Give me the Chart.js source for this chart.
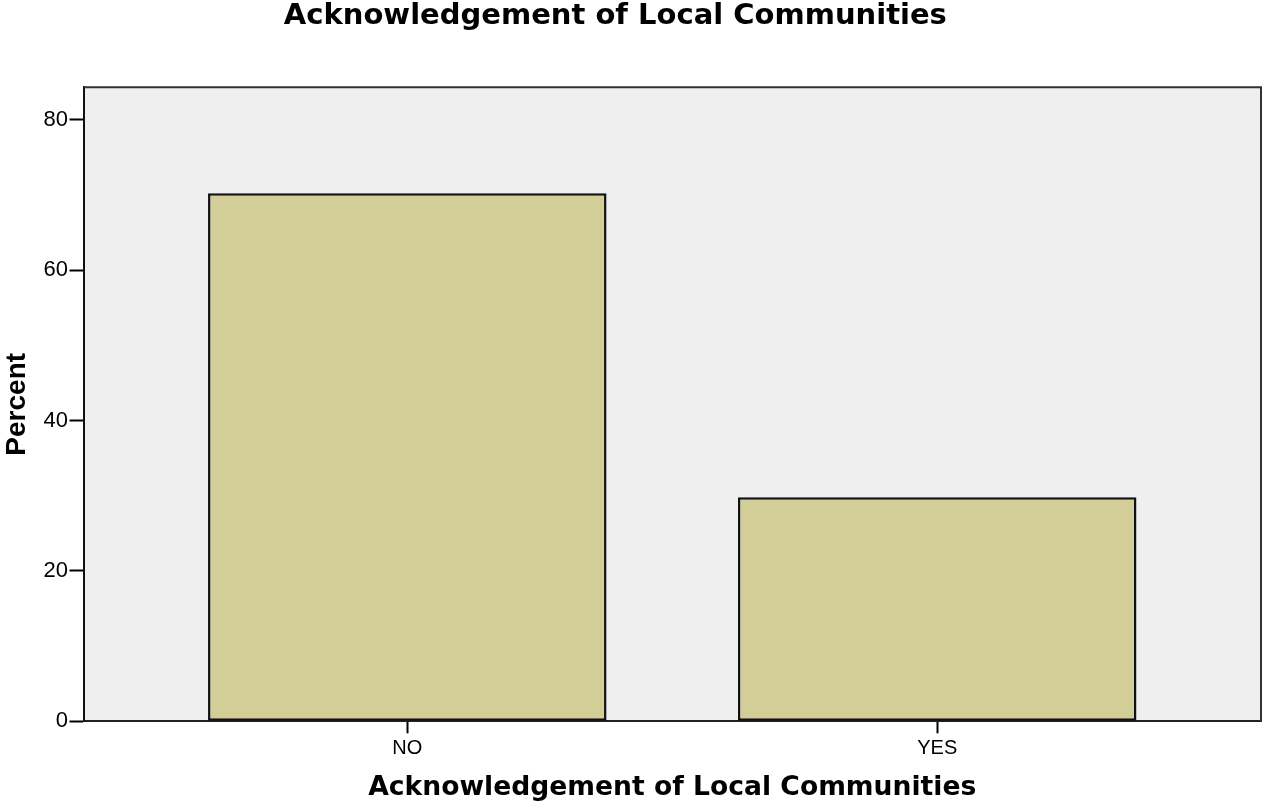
<!DOCTYPE html>
<html>
<head>
<meta charset="utf-8">
<script src="https://cdn.jsdelivr.net/npm/chart.js@4/dist/chart.umd.min.js"></script>
<style>
html,body{margin:0;padding:0;background:#fff;}
#wrap{width:1262px;height:805px;}
</style>
</head>
<body>
<div id="wrap"><canvas id="c" width="1262" height="805"></canvas></div>
<script>
const chartTitle = 'Acknowledgement of Local Communities   ';
const xAxisTitle = 'Acknowledgement of Local Communities';
const yAxisTitle = 'Percent';
const categories = ['NO', 'YES'];
const percentValues = [70.2, 29.8];
const yTickValues = [0, 20, 40, 60, 80];

const plotFrame = {
  id: 'plotFrame',
  beforeDraw(chart) {
    const a = chart.chartArea, ctx = chart.ctx;
    ctx.save();
    ctx.fillStyle = '#efefef';
    ctx.fillRect(a.left, a.top, a.right - a.left, a.bottom - a.top);
    ctx.restore();
  },
  afterDraw(chart) {
    const a = chart.chartArea, ctx = chart.ctx;
    ctx.save();
    ctx.strokeStyle = '#333';
    ctx.lineWidth = 2;
    ctx.beginPath();
    ctx.moveTo(a.left, a.top);
    ctx.lineTo(a.right, a.top);
    ctx.lineTo(a.right, a.bottom);
    ctx.stroke();
    ctx.restore();
  }
};

new Chart(document.getElementById('c'), {
  type: 'bar',
  data: {
    datasets: [{
      data: categories.map((c, i) => ({ x: i, y: percentValues[i] })),
      backgroundColor: '#d3ce97',
      borderColor: '#111',
      borderWidth: 2.5,
      borderSkipped: false,
      barPercentage: 0.752,
      categoryPercentage: 1
    }]
  },
  plugins: [plotFrame],
  options: {
    responsive: false,
    animation: false,
    layout: { padding: { left: 0, right: 1, top: 0, bottom: 0 } },
    plugins: {
      legend: { display: false },
      tooltip: { enabled: false },
      title: {
        display: true,
        text: chartTitle,
        color: '#000',
        font: { family: 'DejaVu Sans', weight: 'bold', size: 29, lineHeight: 1 },
        padding: { top: 2, bottom: 56.3 }
      }
    },
    scales: {
      x: {
        type: 'linear',
        offset: false,
        min: -0.611,
        max: 1.611,
        afterBuildTicks(scale) { scale.ticks = categories.map((c, i) => ({ value: i })); },
        afterFit(scale) { scale.height = 83.7; },
        ticks: {
          color: '#000',
          padding: 3,
          font: { family: 'Liberation Sans', size: 20 },
          callback: (v) => categories[v]
        },
        grid: { offset: false, drawOnChartArea: false, drawTicks: true, tickLength: 12, tickColor: '#000', tickWidth: 2 },
        border: { display: true, color: '#222', width: 2 },
        title: {
          display: true,
          text: xAxisTitle,
          color: '#000',
          font: { family: 'DejaVu Sans', weight: 'bold', size: 26.6, lineHeight: 1 },
          padding: { top: 0, bottom: 4 }
        }
      },
      y: {
        type: 'linear',
        min: 0,
        max: 84.3,
        afterBuildTicks(scale) { scale.ticks = yTickValues.map(v => ({ value: v })); },
        afterFit(scale) { scale.width = 83.5; },
        ticks: {
          color: '#000',
          padding: 1.5,
          font: { family: 'Liberation Sans', size: 22 }
        },
        grid: { drawOnChartArea: false, drawTicks: true, tickLength: 14, tickColor: '#000', tickWidth: 2 },
        border: { display: true, color: '#111', width: 2 },
        title: {
          display: true,
          text: yAxisTitle,
          color: '#000',
          font: { family: 'Liberation Sans', weight: 'bold', size: 28, lineHeight: 1 },
          padding: { top: 3, bottom: 0 }
        }
      }
    }
  }
});
</script>
</body>
</html>
